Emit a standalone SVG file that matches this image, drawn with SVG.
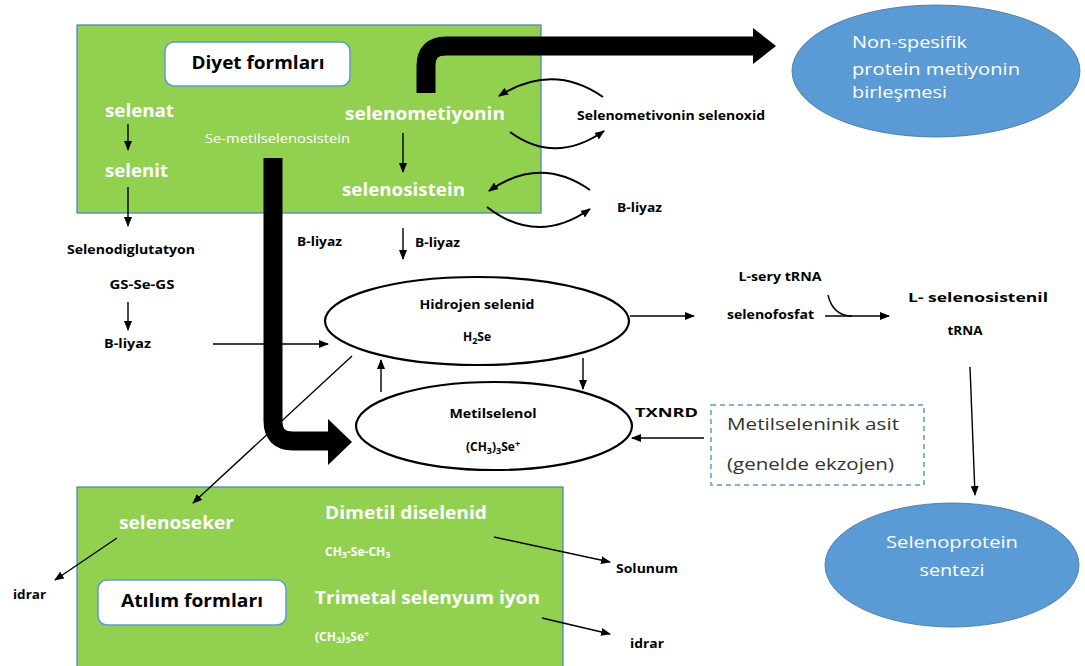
<svg xmlns="http://www.w3.org/2000/svg" width="1085" height="666" viewBox="0 0 1085 666">
<defs>
<marker id="ah" viewBox="0 0 10 8" refX="9" refY="4" markerWidth="10" markerHeight="8" markerUnits="userSpaceOnUse" orient="auto"><path d="M0,0 L10,4 L0,8 z" fill="#000"/></marker>
<style>
.box{fill:#92D050;stroke:#4A7EBB;stroke-width:1.2}
.lbl{fill:#fff;stroke:#5B9BD5;stroke-width:1.5}
.ell{fill:#fff;stroke:#000;stroke-width:2.2}
.blue{fill:#5B9BD5;stroke:#41719C;stroke-width:0.8}
.dash{fill:#fff;stroke:#5B9BD5;stroke-width:1.5;stroke-dasharray:5 4}
text{font-family:'Open Sans','Liberation Sans',sans-serif}
.w{fill:#fff;font-weight:bold;font-size:17px}
.wr{fill:#fff;font-size:13px}
.wb{fill:#fff;font-size:16px}
.k{fill:#000;font-weight:bold;font-size:12px}
.kb{fill:#000;font-weight:bold;font-size:17px}
.g{fill:#333;font-size:17px}
.ws{fill:#fff;font-weight:bold;font-size:12px}
.thin{stroke:#000;stroke-width:1.4;fill:none;marker-end:url(#ah)}
.arc{stroke:#000;stroke-width:2;fill:none;marker-end:url(#ah)}
.thick{stroke:#000;stroke-width:19;fill:none}
</style>
</defs>
<rect width="1085" height="666" fill="#fff"/>

<g id="diyet-box">
<rect class="box" x="77" y="25" width="464" height="188"/>
</g>
<g id="atilim-box">
<rect class="box" x="77" y="487" width="486" height="185"/>
</g>

<g id="connectors">
<path class="thick" d="M426,93 V66 Q426,46 446,46 H756"/>
<polygon points="753,28 776,46 753,64" fill="#000"/>
<path class="thick" d="M273,158 V421 Q273,441 293,441 H330"/>
<polygon points="328,419 352,442 328,465" fill="#000"/>
<line class="thin" x1="128" y1="124" x2="128" y2="150"/>
<line class="thin" x1="403" y1="133" x2="403" y2="172"/>
<line class="thin" x1="128" y1="187" x2="128" y2="226"/>
<line class="thin" x1="128" y1="302" x2="128" y2="330"/>
<line class="thin" x1="403" y1="228" x2="403" y2="259"/>
<line class="thin" x1="213" y1="344" x2="328" y2="344"/>
<line class="thin" x1="381" y1="392" x2="381" y2="360"/>
<line class="thin" x1="583" y1="358" x2="583" y2="389"/>
<line class="thin" x1="352" y1="356" x2="193" y2="503"/>
<line class="thin" x1="630" y1="316" x2="694" y2="316"/>
<path stroke="#000" stroke-width="1.4" fill="none" d="M828,295 Q833,316 852,316"/>
<line class="thin" x1="825" y1="316" x2="889" y2="316"/>
<line class="thin" x1="970" y1="367" x2="975" y2="495"/>
<line class="thin" x1="704" y1="438" x2="632" y2="438"/>
<line class="thin" x1="117" y1="538" x2="55" y2="580"/>
<line class="thin" x1="494" y1="537" x2="610" y2="562"/>
<line class="thin" x1="542" y1="618" x2="610" y2="634"/>
<path class="arc" d="M603,97 Q553,62 499,96"/>
<path class="arc" d="M510,132 Q555,165 604,131"/>
<path class="arc" d="M590,190 Q540,155 489,191"/>
<path class="arc" d="M487,207 Q537,246 590,209"/>
</g>

<g id="diyet-label">
<rect class="lbl" x="165" y="42" width="185" height="44" rx="9"/>
<text class="kb" x="258" y="69" text-anchor="middle" textLength="133" lengthAdjust="spacingAndGlyphs">Diyet formları</text>
</g>
<g id="selenat"><text class="w" x="105" y="117" textLength="69" lengthAdjust="spacingAndGlyphs">selenat</text></g>
<g id="selenit"><text class="w" x="105" y="177" textLength="63" lengthAdjust="spacingAndGlyphs">selenit</text></g>
<g id="se-metil"><text class="wr" x="205" y="143" textLength="145" lengthAdjust="spacingAndGlyphs">Se-metilselenosistein</text></g>
<g id="selenometiyonin"><text class="w" x="345" y="120" textLength="160" lengthAdjust="spacingAndGlyphs">selenometiyonin</text></g>
<g id="selenosistein"><text class="w" x="342" y="196" textLength="123" lengthAdjust="spacingAndGlyphs">selenosistein</text></g>
<g id="selenoxid"><text class="k" x="577" y="120" textLength="188" lengthAdjust="spacingAndGlyphs">Selenometivonin selenoxid</text></g>
<g id="bliyaz-r"><text class="k" x="617" y="212" textLength="45" lengthAdjust="spacingAndGlyphs">B-liyaz</text></g>
<g id="selenodiglutatyon">
<text class="k" x="67" y="254" textLength="128" lengthAdjust="spacingAndGlyphs">Selenodiglutatyon</text>
<text class="k" x="142" y="289" text-anchor="middle" textLength="65" lengthAdjust="spacingAndGlyphs">GS-Se-GS</text>
</g>
<g id="bliyaz-l"><text class="k" x="104" y="348" textLength="47" lengthAdjust="spacingAndGlyphs">B-liyaz</text></g>
<g id="bliyaz-bar"><text class="k" x="297" y="246" textLength="45" lengthAdjust="spacingAndGlyphs">B-liyaz</text></g>
<g id="bliyaz-mid"><text class="k" x="415" y="247" textLength="45" lengthAdjust="spacingAndGlyphs">B-liyaz</text></g>

<g id="hidrojen-selenid">
<ellipse class="ell" cx="477" cy="321" rx="152" ry="44"/>
<text class="k" x="477" y="309" text-anchor="middle" textLength="115" lengthAdjust="spacingAndGlyphs">Hidrojen selenid</text>
<text class="k" x="477" y="341" text-anchor="middle">H<tspan font-size="9" dy="3">2</tspan><tspan dy="-3">Se</tspan></text>
</g>
<g id="metilselenol">
<ellipse class="ell" cx="494" cy="426" rx="138" ry="44"/>
<text class="k" x="493" y="418" text-anchor="middle" textLength="87" lengthAdjust="spacingAndGlyphs">Metilselenol</text>
<text class="k" x="493" y="451" text-anchor="middle">(CH<tspan font-size="9" dy="3">3</tspan><tspan dy="-3">)</tspan><tspan font-size="9" dy="3">3</tspan><tspan dy="-3">Se</tspan><tspan font-size="9" dy="-4">+</tspan></text>
</g>
<g id="lsery"><text class="k" x="780" y="281" text-anchor="middle" textLength="83" lengthAdjust="spacingAndGlyphs">L-sery tRNA</text></g>
<g id="selenofosfat"><text class="k" x="727" y="319" textLength="87" lengthAdjust="spacingAndGlyphs">selenofosfat</text></g>
<g id="l-selenosistenil">
<text class="k" x="908" y="302" textLength="140" lengthAdjust="spacingAndGlyphs">L- selenosistenil</text>
<text class="k" x="965" y="335" text-anchor="middle" textLength="35" lengthAdjust="spacingAndGlyphs">tRNA</text>
</g>
<g id="txnrd"><text class="k" x="635" y="417" font-size="16" textLength="63" lengthAdjust="spacingAndGlyphs">TXNRD</text></g>
<g id="metilseleninik">
<rect class="dash" x="711" y="405" width="213" height="80"/>
<text class="g" x="727" y="430" textLength="172" lengthAdjust="spacingAndGlyphs">Metilseleninik asit</text>
<text class="g" x="727" y="470" textLength="167" lengthAdjust="spacingAndGlyphs">(genelde ekzojen)</text>
</g>
<g id="non-spesifik">
<ellipse class="blue" cx="936" cy="71" rx="144" ry="66"/>
<text class="wb" x="852" y="48" textLength="115" lengthAdjust="spacingAndGlyphs">Non-spesifik</text>
<text class="wb" x="852" y="75" textLength="168" lengthAdjust="spacingAndGlyphs">protein metiyonin</text>
<text class="wb" x="852" y="98" textLength="95" lengthAdjust="spacingAndGlyphs">birleşmesi</text>
</g>
<g id="selenoprotein">
<ellipse class="blue" cx="952" cy="565" rx="127" ry="62"/>
<text class="wb" x="952" y="548" text-anchor="middle" textLength="132" lengthAdjust="spacingAndGlyphs">Selenoprotein</text>
<text class="wb" x="952" y="576" text-anchor="middle" textLength="65" lengthAdjust="spacingAndGlyphs">sentezi</text>
</g>

<g id="selenoseker"><text class="w" x="119" y="529" textLength="115" lengthAdjust="spacingAndGlyphs">selenoseker</text></g>
<g id="idrar-l"><text class="k" x="13" y="599" textLength="33" lengthAdjust="spacingAndGlyphs">idrar</text></g>
<g id="dimetil">
<text class="w" x="325" y="519" textLength="162" lengthAdjust="spacingAndGlyphs">Dimetil diselenid</text>
<text class="ws" x="325" y="556">CH<tspan font-size="9" dy="2">3</tspan><tspan dy="-2">-Se-CH</tspan><tspan font-size="9" dy="2">3</tspan></text>
</g>
<g id="atilim-label">
<rect class="lbl" x="98" y="580" width="188" height="45" rx="9"/>
<text class="kb" x="192" y="607" text-anchor="middle" textLength="142" lengthAdjust="spacingAndGlyphs">Atılım formları</text>
</g>
<g id="trimetal">
<text class="w" x="315" y="604" textLength="225" lengthAdjust="spacingAndGlyphs">Trimetal selenyum iyon</text>
<text class="ws" x="315" y="641">(CH<tspan font-size="9" dy="2">3</tspan><tspan dy="-2">)</tspan><tspan font-size="9" dy="2">3</tspan><tspan dy="-2">Se</tspan><tspan font-size="9" dy="-4">+</tspan></text>
</g>
<g id="solunum"><text class="k" x="616" y="573" textLength="62" lengthAdjust="spacingAndGlyphs">Solunum</text></g>
<g id="idrar-r"><text class="k" x="630" y="648" textLength="34" lengthAdjust="spacingAndGlyphs">idrar</text></g>
</svg>
